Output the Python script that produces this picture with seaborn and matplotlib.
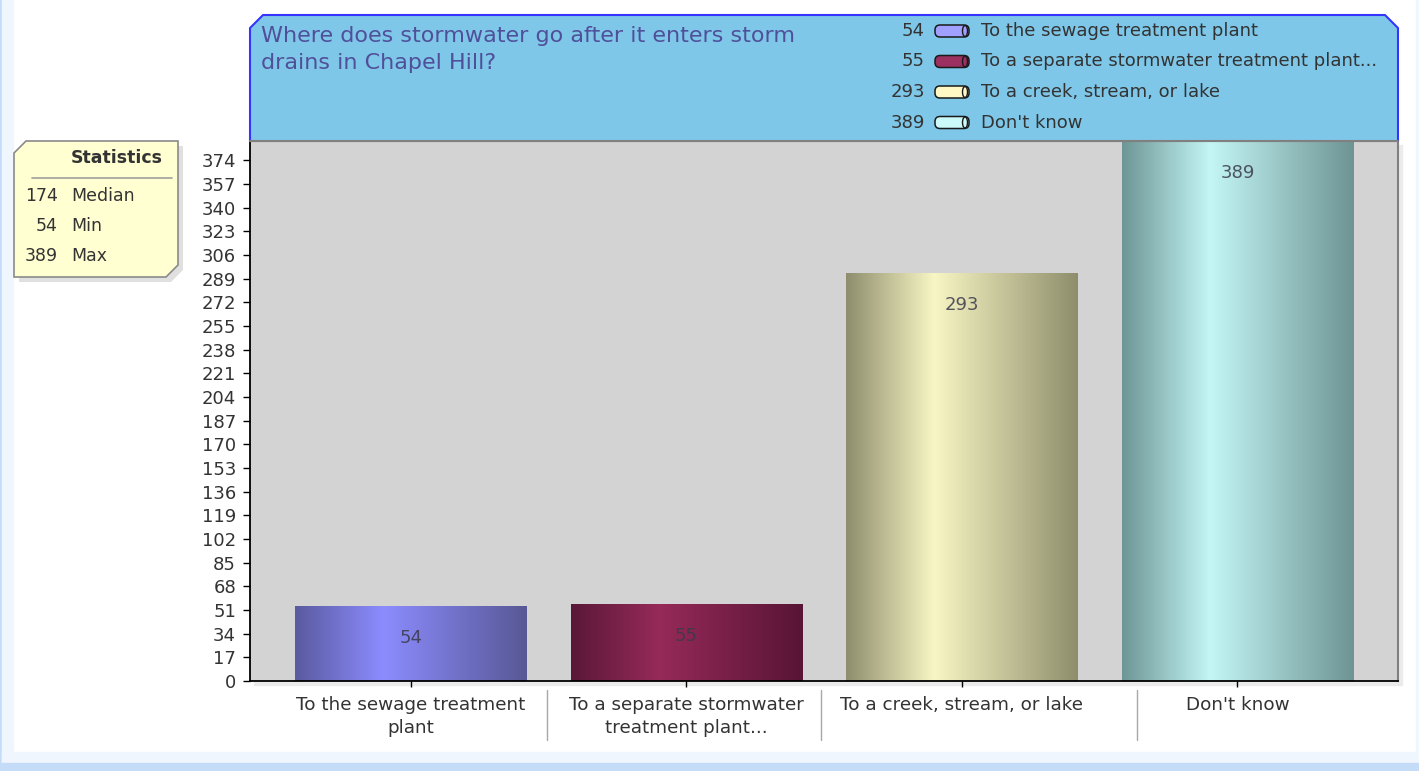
import numpy as np
import pandas as pd
import matplotlib
matplotlib.use("Agg")
import matplotlib.pyplot as plt
import seaborn as sns
from matplotlib.patches import Polygon, Rectangle, FancyBboxPatch, Ellipse
from matplotlib.colors import LinearSegmentedColormap
from matplotlib.transforms import Affine2D, blended_transform_factory
from matplotlib.lines import Line2D

categories = ["To the sewage treatment plant",
              "To a separate stormwater treatment plant...",
              "To a creek, stream, or lake",
              "Don't know"]
tick_labels = ["To the sewage treatment\nplant",
               "To a separate stormwater\ntreatment plant...",
               "To a creek, stream, or lake",
               "Don't know"]
counts = [54, 55, 293, 389]
title = "Where does stormwater go after it enters storm\ndrains in Chapel Hill?"

base_colors = ["#8c8cff", "#962a58", "#f8f6c4", "#c4f6f6"]
grad_colors = [("#5a5aa0", "#8c8cff", "#585896"),
               ("#5a1838", "#962a58", "#581535"),
               ("#8e8e6e", "#f8f6c4", "#8e8e6c"),
               ("#6e9696", "#c4f6f6", "#6e9494")]
swatch_colors = ["#a0a0ff", "#9c3060", "#fff8c4", "#ccfafa"]

W, H = 1419, 771
sns.set_theme(style="white")
plt.rcParams["font.family"] = ["DejaVu Sans"]

fig = plt.figure(figsize=(W / 100, H / 100), dpi=100, facecolor="white")
# pixel coords, origin top-left
PX = Affine2D().scale(1 / W, -1 / H).translate(0, 1) + fig.transFigure

# outer frame
fig.patches.append(Rectangle((0, 0), 2, H, transform=PX, color="#c5dcf8", zorder=-2))
fig.patches.append(Rectangle((2, 0), 11, 763, transform=PX, color="#f0f6fe", zorder=-2))
fig.patches.append(Rectangle((2, 752), W, 11, transform=PX, color="#f0f6fe", zorder=-2))
fig.patches.append(Rectangle((1416, 0), 3, 763, transform=PX, color="#f0f6fe", zorder=-2))
fig.patches.append(Rectangle((0, 763), W, 8, transform=PX, color="#c5dcf8", zorder=-2))
# plot shadow
fig.patches.append(Rectangle((254, 145), 1148, 540, transform=PX, color="#ebebeb", zorder=-1))

ax = fig.add_axes([250 / W, 1 - 681 / H, 1148 / W, 540 / H])
ax.set_facecolor("#d3d3d3")

df = pd.DataFrame({"category": categories, "count": counts})
sns.barplot(data=df, x="category", y="count", hue="category", palette=base_colors,
            legend=False, width=0.84, ax=ax, edgecolor="none")

ymax = 388
bars = sorted(ax.patches, key=lambda p: p.get_x())
for bar, (c0, c1, c2) in zip(bars, grad_colors):
    cmap = LinearSegmentedColormap.from_list("g", [(0, c0), (0.38, c1), (1, c2)])
    grad = np.linspace(0, 1, 256).reshape(1, -1)
    x0 = bar.get_x()
    x1 = x0 + bar.get_width()
    h = bar.get_height()
    im = ax.imshow(grad, extent=[x0, x1, 0, h], aspect="auto", cmap=cmap,
                   zorder=bar.get_zorder() + 0.1)
    im.set_clip_path(bar)

for i, v in enumerate(counts):
    ax.annotate(str(v), xy=(i, min(v, ymax)), xytext=(0, -23), textcoords="offset points",
                ha="center", va="center", fontsize=13, color="#3a3a4a", alpha=0.85, zorder=5)

ax.set_xlim(-0.584, 3.583)
ax.set_ylim(0, ymax)
ax.set_yticks(np.arange(0, 375, 17))
ax.set_xticks(range(len(tick_labels)))
ax.set_xticklabels(tick_labels, fontsize=13.2, color="#333333", linespacing=1.35)
ax.tick_params(axis="y", labelsize=13, labelcolor="#333333", length=5, width=1,
               color="black", pad=5, left=True, direction="out")
ax.tick_params(axis="x", length=4, width=1, color="black", pad=7, bottom=True, direction="out")
ax.set_xlabel("")
ax.set_ylabel("")
for s in ["left", "bottom"]:
    ax.spines[s].set_color("black")
    ax.spines[s].set_linewidth(1.3)
for s in ["top", "right"]:
    ax.spines[s].set_color("#808080")
    ax.spines[s].set_linewidth(1.5)

# separators under the category axis
trans = blended_transform_factory(ax.transData, ax.transAxes)
for xs in [0.494, 1.49, 2.635]:
    ax.add_line(Line2D([xs, xs], [-0.017, -0.109], transform=trans, color="#a8a8a8",
                       lw=1, clip_on=False))

# title box
box = [(250, 141), (250, 28), (263, 15), (1385, 15), (1398, 28), (1398, 141)]
fig.patches.append(Polygon(box, closed=True, transform=PX, facecolor="#7ec7e8",
                           edgecolor="none", zorder=1))
xs_, ys_ = zip(*box)
fig.lines.append(Line2D(xs_, ys_, transform=PX, color="#3535ff", lw=1.5, zorder=2))
fig.lines.append(Line2D([250, 1398], [141, 141], transform=PX, color="#808080", lw=1.5, zorder=2))
fig.text(261, 26, title, transform=PX, fontsize=16, color="#50509a",
         ha="left", va="top", linespacing=1.45)

# legend
for k, (lab, v, col) in enumerate(zip(categories, counts, swatch_colors)):
    yc = 31 + k * 30.5
    fig.text(925, yc, str(v), transform=PX, fontsize=13, color="#333333",
             ha="right", va="center")
    fig.patches.append(FancyBboxPatch((935, yc - 6), 34, 12,
                                      boxstyle="round,pad=0,rounding_size=5",
                                      transform=PX, facecolor=col, edgecolor="#1a1a1a",
                                      lw=1.1, zorder=3))
    fig.patches.append(Ellipse((965, yc), 5, 11, transform=PX, facecolor=col,
                               edgecolor="#1a1a1a", lw=1.0, zorder=4))
    fig.text(981, yc, lab, transform=PX, fontsize=13, color="#333333",
             ha="left", va="center")

# statistics box
stats = [("Median", int(np.median(counts))), ("Min", min(counts)), ("Max", max(counts))]
sbox = [(26, 141), (178, 141), (178, 265), (166, 277), (14, 277), (14, 153)]
shadow = [(x + 5, y + 5) for x, y in sbox]
fig.patches.append(Polygon(shadow, closed=True, transform=PX, facecolor="#000000",
                           alpha=0.12, edgecolor="none", zorder=1))
fig.patches.append(Polygon(sbox, closed=True, transform=PX, facecolor="#ffffd2",
                           edgecolor="#8a8a8a", lw=1.2, zorder=2))
fig.text(163, 158, "Statistics", transform=PX, fontsize=12.5, fontweight="bold",
         color="#333333", ha="right", va="center", zorder=3)
fig.lines.append(Line2D([32, 172], [178, 178], transform=PX, color="#a0a0a0", lw=1.2, zorder=3))
for k, (name, val) in enumerate(stats):
    yc = 196 + k * 30
    fig.text(58, yc, str(val), transform=PX, fontsize=12.5, color="#333333",
             ha="right", va="center", zorder=3)
    fig.text(71, yc, name, transform=PX, fontsize=12.5, color="#333333",
             ha="left", va="center", zorder=3)

fig.savefig("out.png", dpi=100, facecolor=fig.get_facecolor())
